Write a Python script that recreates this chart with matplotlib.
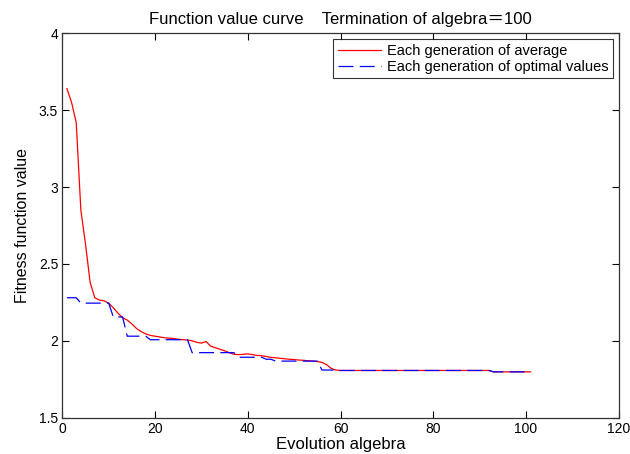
import matplotlib
matplotlib.use("Agg")
import matplotlib.pyplot as plt

# generation index
generations = list(range(1, 102))

# average fitness per generation
avg_values = [
    3.64, 3.55, 3.42, 2.85, 2.63, 2.38, 2.28, 2.265, 2.26, 2.245,
    2.215, 2.18, 2.15, 2.135, 2.11, 2.08, 2.06, 2.045, 2.035, 2.03,
    2.025, 2.02, 2.017, 2.015, 2.01, 2.007, 2.005, 2.0, 1.99, 1.985,
    1.995, 1.965, 1.955, 1.945, 1.935, 1.923, 1.912, 1.91, 1.912, 1.915,
    1.91, 1.905, 1.903, 1.898, 1.892, 1.89, 1.886, 1.883, 1.88, 1.878,
    1.875, 1.873, 1.87, 1.868, 1.865, 1.86, 1.845, 1.82, 1.81, 1.807,
    1.807, 1.807, 1.807, 1.807, 1.807, 1.807, 1.807, 1.807, 1.807, 1.807,
    1.807, 1.807, 1.807, 1.807, 1.807, 1.807, 1.807, 1.807, 1.807, 1.807,
    1.807, 1.807, 1.807, 1.807, 1.807, 1.807, 1.807, 1.807, 1.807, 1.807,
    1.807, 1.807, 1.798, 1.798, 1.798, 1.798, 1.798, 1.798, 1.798, 1.798,
    1.798,
]

# best fitness per generation
best_values = [
    2.28, 2.28, 2.28, 2.245, 2.245, 2.245, 2.245, 2.245, 2.245, 2.245,
    2.155, 2.155, 2.155, 2.03, 2.03, 2.03, 2.03, 2.03, 2.007, 2.007,
    2.007, 2.007, 2.007, 2.007, 2.007, 2.007, 2.007, 1.923, 1.923, 1.923,
    1.923, 1.923, 1.923, 1.923, 1.923, 1.923, 1.923, 1.893, 1.893, 1.893,
    1.893, 1.893, 1.893, 1.88, 1.88, 1.868, 1.868, 1.868, 1.868, 1.868,
    1.868, 1.868, 1.868, 1.868, 1.868, 1.81, 1.81, 1.81, 1.807, 1.807,
    1.807, 1.807, 1.807, 1.807, 1.807, 1.807, 1.807, 1.807, 1.807, 1.807,
    1.807, 1.807, 1.807, 1.807, 1.807, 1.807, 1.807, 1.807, 1.807, 1.807,
    1.807, 1.807, 1.807, 1.807, 1.807, 1.807, 1.807, 1.807, 1.807, 1.807,
    1.807, 1.807, 1.798, 1.798, 1.798, 1.798, 1.798, 1.798, 1.798, 1.798,
    1.798,
]

x_ticks = [0, 20, 40, 60, 80, 100, 120]
y_ticks = [1.5, 2, 2.5, 3, 3.5, 4]
y_tick_labels = ["1.5", "2", "2.5", "3", "3.5", "4"]

plt.rcParams['font.family'] = ['Liberation Sans', 'Noto Sans CJK SC', 'DejaVu Sans']

fig = plt.figure(figsize=(6.3, 4.54), dpi=100)
ax = fig.add_axes([0.0989, 0.080, 0.8832, 0.8467])

ax.plot(generations, avg_values, color='#ff0000', linewidth=0.9,
        label='Each generation of average')
ax.plot(generations, best_values, color='#0000ff', linewidth=0.9,
        linestyle=(0, (12, 5)), label='Each generation of optimal values')

ax.set_xlim(0, 120)
ax.set_ylim(1.5, 4)
ax.set_xticks(x_ticks)
ax.set_yticks(y_ticks)
ax.set_yticklabels(y_tick_labels)
ax.tick_params(direction='in', top=True, right=True, length=5, width=0.8,
               labelsize=10, pad=3)

for s in ax.spines.values():
    s.set_linewidth(0.9)
    s.set_color('#333333')

ax.set_title('Function value curve    Termination of algebra\uff1d100',
             fontsize=12, pad=7)
ax.set_xlabel('Evolution algebra', fontsize=12, labelpad=1)
ax.set_ylabel('Fitness function value', fontsize=11.5, labelpad=6)

# legend box sits just inside the top-right corner
leg = ax.legend(loc='upper right', fontsize=10.5, frameon=True, fancybox=False,
                edgecolor='black', handlelength=3.0, handletextpad=0.35,
                labelspacing=0.15, borderaxespad=0.42, borderpad=0.3)
leg.get_frame().set_linewidth(0.8)

fig.savefig('out.png', dpi=100)
